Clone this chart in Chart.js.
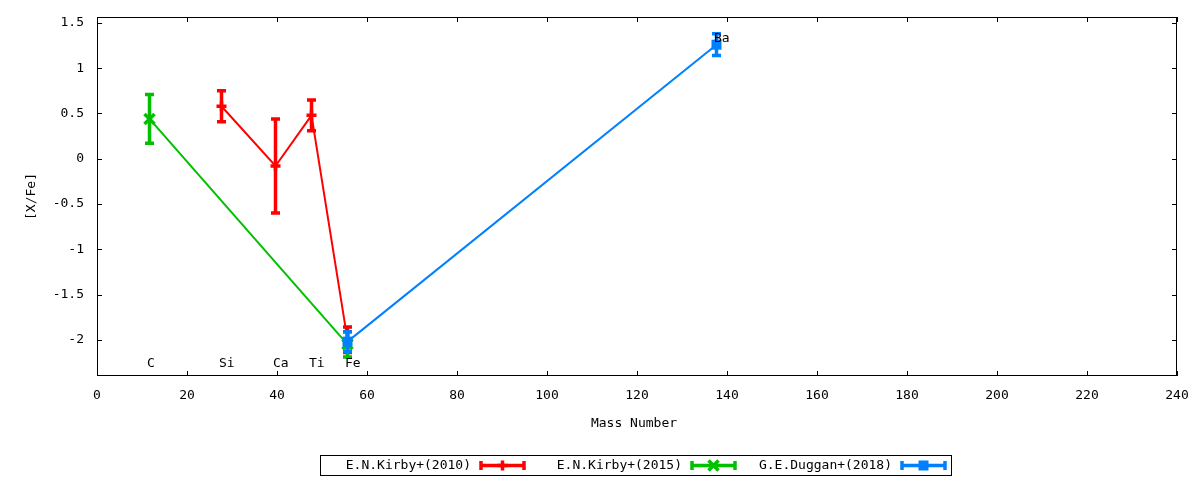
<!DOCTYPE html>
<html>
<head>
<meta charset="utf-8">
<script src="https://cdn.jsdelivr.net/npm/chart.js@4"></script>
<style>
  html, body { margin: 0; padding: 0; background: #fff; }
  #wrap { width: 1200px; height: 480px; }
</style>
</head>
<body>
<div id="wrap"><canvas id="abundChart" width="1200" height="480"></canvas></div>
<script>
// Element labels drawn inside the plot
const elementNames = ['C', 'Si', 'Ca', 'Ti', 'Fe', 'Ba'];
const elementMass = [12, 28, 40, 48, 56, 138];
const elementLabelY = [-2.26, -2.26, -2.26, -2.26, -2.26, 1.33];

// Series: mass number, [X/Fe], error
const kirby2010Mass = [28, 40, 48, 56];
const kirby2010Val = [0.58, -0.08, 0.48, -2.0];
const kirby2010Err = [0.17, 0.52, 0.17, 0.14];

const kirby2015Mass = [12, 56];
const kirby2015Val = [0.44, -2.05];
const kirby2015Err = [0.27, 0.14];

const duggan2018Mass = [56, 138];
const duggan2018Val = [-2.02, 1.26];
const duggan2018Err = [0.11, 0.12];

const xTicks = [0, 20, 40, 60, 80, 100, 120, 140, 160, 180, 200, 220, 240];
const yTicks = [-2, -1.5, -1, -0.5, 0, 0.5, 1, 1.5];

const FONT = '"DejaVu Sans Mono", monospace';
const RED = '#ff0000';
const GREEN = '#00c000';
const BLUE = '#0080ff';

function toPoints(xs, ys, es) {
  return xs.map((x, i) => ({ x: x, y: ys[i], err: es[i] }));
}

const seriesInfo = [
  { label: 'E.N.Kirby+(2010)', color: RED, style: 'cross' },
  { label: 'E.N.Kirby+(2015)', color: GREEN, style: 'crossRot' },
  { label: 'G.E.Duggan+(2018)', color: BLUE, style: 'rect' },
];

function drawMarker(ctx, style, x, y, color) {
  ctx.save();
  ctx.strokeStyle = color;
  ctx.fillStyle = color;
  ctx.lineWidth = 3.5;
  const r = 5;
  ctx.beginPath();
  if (style === 'cross') {
    ctx.moveTo(x - r, y); ctx.lineTo(x + r, y);
    ctx.moveTo(x, y - r); ctx.lineTo(x, y + r);
    ctx.stroke();
  } else if (style === 'crossRot') {
    ctx.moveTo(x - r, y - r); ctx.lineTo(x + r, y + r);
    ctx.moveTo(x - r, y + r); ctx.lineTo(x + r, y - r);
    ctx.stroke();
  } else {
    ctx.fillRect(x - r, y - r, 2 * r, 2 * r);
  }
  ctx.restore();
}

// error bars + markers, drawn after each dataset line
const errorBars = {
  id: 'errorBars',
  afterDatasetDraw(chart, args) {
    const ctx = chart.ctx;
    const xs = chart.scales.x, ys = chart.scales.y;
    const ds = chart.data.datasets[args.index];
    const info = seriesInfo[args.index];
    ctx.save();
    ctx.strokeStyle = info.color;
    ctx.lineWidth = 3.5;
    ds.data.forEach(p => {
      const px = xs.getPixelForValue(p.x) - 1.5;
      const top = ys.getPixelForValue(p.y + p.err);
      const bot = ys.getPixelForValue(p.y - p.err);
      ctx.beginPath();
      ctx.moveTo(px, top); ctx.lineTo(px, bot);
      ctx.moveTo(px - 4.5, top); ctx.lineTo(px + 4.5, top);
      ctx.moveTo(px - 4.5, bot); ctx.lineTo(px + 4.5, bot);
      ctx.stroke();
      drawMarker(ctx, info.style, px, ys.getPixelForValue(p.y), info.color);
    });
    ctx.restore();
  }
};

// frame with inward ticks, axis titles, element labels and legend box
const decorations = {
  id: 'decorations',
  afterDraw(chart) {
    const ctx = chart.ctx;
    const a = chart.chartArea;
    const xs = chart.scales.x, ys = chart.scales.y;
    ctx.save();
    ctx.strokeStyle = '#000';
    ctx.lineWidth = 1;
    ctx.strokeRect(a.left + 0.5, a.top + 0.5, a.right - a.left - 1, a.bottom - a.top - 1);
    ctx.beginPath();
    xTicks.forEach(v => {
      const px = Math.round(xs.getPixelForValue(v)) + 0.5;
      ctx.moveTo(px, a.bottom); ctx.lineTo(px, a.bottom - 5);
      ctx.moveTo(px, a.top); ctx.lineTo(px, a.top + 5);
    });
    yTicks.forEach(v => {
      const py = Math.round(ys.getPixelForValue(v)) + 0.5;
      ctx.moveTo(a.left, py); ctx.lineTo(a.left + 5, py);
      ctx.moveTo(a.right, py); ctx.lineTo(a.right - 5, py);
    });
    ctx.stroke();

    ctx.fillStyle = '#000';
    ctx.font = '13px ' + FONT;
    ctx.textBaseline = 'middle';

    // element labels
    ctx.textAlign = 'left';
    elementNames.forEach((n, i) => {
      ctx.fillText(n, xs.getPixelForValue(elementMass[i]) - 4, ys.getPixelForValue(elementLabelY[i]));
    });

    // axis titles
    ctx.textAlign = 'center';
    ctx.fillText('Mass Number', (a.left + a.right) / 2 - 3, 424);
    ctx.save();
    ctx.translate(32, (a.top + a.bottom) / 2);
    ctx.rotate(-Math.PI / 2);
    ctx.fillText('[X/Fe]', 0, 0);
    ctx.restore();

    // legend
    const boxL = 320, boxR = 951, boxT = 455, boxB = 475;
    ctx.strokeRect(boxL + 0.5, boxT + 0.5, boxR - boxL, boxB - boxT);
    const textRight = [471, 682, 892];
    const cy = (boxT + boxB) / 2 + 0.5;
    seriesInfo.forEach((s, i) => {
      ctx.textAlign = 'right';
      ctx.fillStyle = '#000';
      ctx.fillText(s.label, textRight[i], cy);
      const x0 = textRight[i] + 10, x1 = textRight[i] + 53;
      ctx.strokeStyle = s.color;
      ctx.lineWidth = 3.5;
      ctx.beginPath();
      ctx.moveTo(x0, cy); ctx.lineTo(x1, cy);
      ctx.moveTo(x0, cy - 4.5); ctx.lineTo(x0, cy + 4.5);
      ctx.moveTo(x1, cy - 4.5); ctx.lineTo(x1, cy + 4.5);
      ctx.stroke();
      drawMarker(ctx, s.style, (x0 + x1) / 2, cy, s.color);
    });
    ctx.restore();
  }
};

// shift the polylines to sit on the markers
const lineShift = {
  id: 'lineShift',
  beforeDatasetDraw(chart) { chart.ctx.save(); chart.ctx.translate(-1.5, 0); },
  afterDatasetDraw(chart) { chart.ctx.restore(); },
};

const ctx = document.getElementById('abundChart').getContext('2d');

const abundChart = new Chart(ctx, {
  type: 'line',
  data: {
    datasets: [
      {
        label: seriesInfo[0].label,
        data: toPoints(kirby2010Mass, kirby2010Val, kirby2010Err),
        borderColor: RED,
        borderWidth: 2,
        pointRadius: 0,
        order: 2,
      },
      {
        label: seriesInfo[1].label,
        data: toPoints(kirby2015Mass, kirby2015Val, kirby2015Err),
        borderColor: GREEN,
        borderWidth: 2,
        pointRadius: 0,
        order: 1,
      },
      {
        label: seriesInfo[2].label,
        data: toPoints(duggan2018Mass, duggan2018Val, duggan2018Err),
        borderColor: BLUE,
        borderWidth: 2,
        pointRadius: 0,
        order: 0,
      },
    ],
  },
  options: {
    responsive: false,
    animation: false,
    devicePixelRatio: 1,
    layout: { padding: { left: 0, right: 23, top: 17, bottom: 0 } },
    plugins: {
      legend: { display: false },
      tooltip: { enabled: false },
    },
    scales: {
      x: {
        type: 'linear',
        min: 0,
        max: 240,
        grid: { display: false, drawTicks: false },
        border: { display: false },
        ticks: {
          color: '#000', font: { family: FONT, size: 13 }, padding: 12, maxRotation: 0,
          callback: (v) => String(v),
        },
        afterBuildTicks: (scale) => { scale.ticks = xTicks.map(v => ({ value: v })); },
        afterFit: (scale) => { scale.height = 104; scale.paddingLeft = 0; scale.paddingRight = 0; },
      },
      y: {
        type: 'linear',
        min: -2.4,
        max: 1.566,
        grid: { display: false, drawTicks: false },
        border: { display: false },
        ticks: {
          color: '#000', font: { family: FONT, size: 13 }, padding: 13,
          callback: (v) => String(v),
        },
        afterBuildTicks: (scale) => { scale.ticks = yTicks.map(v => ({ value: v })); },
        afterFit: (scale) => { scale.width = 97; scale.paddingTop = 0; scale.paddingBottom = 0; },
      },
    },
  },
  plugins: [lineShift, errorBars, decorations],
});
</script>
</body>
</html>
